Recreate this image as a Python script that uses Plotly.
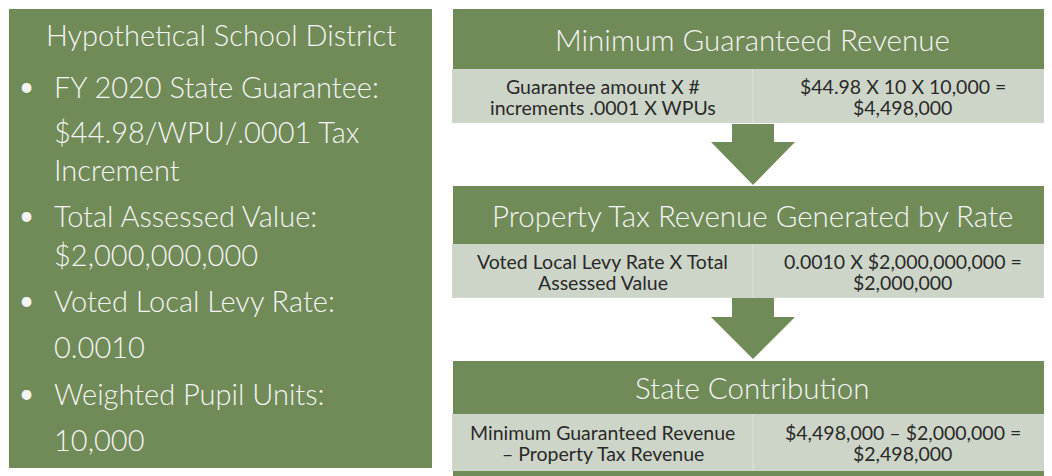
import plotly.graph_objects as go

# ---- content ----
left_title = "Hypothetical School District"
bullet_lines = [
    ["FY 2020 State Guarantee:", "$44.98/WPU/.0001 Tax", "Increment"],
    ["Total Assessed Value:", "$2,000,000,000"],
    ["Voted Local Levy Rate:", "0.0010"],
    ["Weighted Pupil Units:", "10,000"],
]
section_titles = [
    "Minimum Guaranteed Revenue",
    "Property Tax Revenue Generated by Rate",
    "State Contribution",
]
formula_text = [
    ["Guarantee amount X #", "increments .0001 X WPUs"],
    ["Voted Local Levy Rate X Total", "Assessed Value"],
    ["Minimum Guaranteed Revenue", "\u2013 Property Tax Revenue"],
]
value_text = [
    ["$44.98 X 10 X 10,000 =", "$4,498,000"],
    ["0.0010 X $2,000,000,000 =", "$2,000,000"],
    ["$4,498,000 \u2013 $2,000,000 =", "$2,498,000"],
]

# ---- style / layout ----
W, H = 1052, 476
PAGE_MARGIN = 8  # default body margin of the html page
GREEN = "#708B57"
GRAY = "#CDD5C8"
LIGHT = "#F4F4F4"
DARK = "#2A2A2A"
FONT = "Lato"

left_box = (9, 432, 9, 468)
bullet_line_y = [[86, 131, 169], [215, 254], [300, 346], [393, 439]]
rx0, rmid, rx1 = 452, 753, 1052
header_y = [(9, 69), (186, 244), (361, 414)]
row_y = [(69, 123), (244, 298), (414, 471)]
arrows = [(124, 142, 185), (298, 317, 359)]

fig = go.Figure()
shapes = []
ann = []

# left box
shapes.append(dict(type="rect", x0=left_box[0], x1=left_box[1], y0=left_box[2], y1=left_box[3],
                   fillcolor=GREEN, line=dict(width=0), layer="below"))
ann.append(dict(x=221, y=34, text=left_title, xanchor="center", yanchor="middle",
                font=dict(family=FONT, size=29, color=LIGHT, weight=300)))
for lines, ys in zip(bullet_lines, bullet_line_y):
    ann.append(dict(x=17, y=ys[0], text="\u2022", xanchor="left", yanchor="middle",
                    font=dict(family=FONT, size=26, color=LIGHT)))
    for t, y in zip(lines, ys):
        ann.append(dict(x=52, y=y, text=t, xanchor="left", yanchor="middle",
                        font=dict(family=FONT, size=29, color=LIGHT, weight=300)))

# right flow
for i in range(3):
    hy0, hy1 = header_y[i]
    ry0, ry1 = row_y[i]
    shapes.append(dict(type="rect", x0=rx0 + 1, x1=rx1 + 10, y0=hy0, y1=hy1,
                       fillcolor=GREEN, line=dict(width=0)))
    shapes.append(dict(type="rect", x0=rx0, x1=rx1 + 10, y0=ry0, y1=ry1,
                       fillcolor=GRAY, line=dict(width=0)))
    shapes.append(dict(type="line", x0=rmid, x1=rmid, y0=ry0, y1=ry1,
                       line=dict(color="#DCE2D8", width=1)))
    ann.append(dict(x=(rx0 + rx1) / 2, y=(hy0 + hy1) / 2, text=section_titles[i],
                    xanchor="center", yanchor="middle",
                    font=dict(family=FONT, size=29.5, color=LIGHT, weight=300)))
    cy = (ry0 + ry1) / 2
    for j, (lt, rt) in enumerate(zip(formula_text[i], value_text[i])):
        y = cy - 10 + 21 * j
        ann.append(dict(x=(rx0 + rmid) / 2, y=y, text=lt, xanchor="center", yanchor="middle",
                        font=dict(family=FONT, size=19.5, color=DARK, weight=400)))
        ann.append(dict(x=(rmid + rx1) / 2, y=y, text=rt, xanchor="center", yanchor="middle",
                        font=dict(family=FONT, size=19.5, color=DARK, weight=400)))

# bottom strip under last row
shapes.append(dict(type="rect", x0=rx0 + 1, x1=rx1 + 10, y0=471, y1=480,
                   fillcolor=GREEN, line=dict(width=0)))

# arrows
for (a0, a1, a2) in arrows:
    path = (f"M 732 {a0} L 774 {a0} L 774 {a1} L 795 {a1} L 753 {a2} "
            f"L 711 {a1} L 732 {a1} Z")
    shapes.append(dict(type="path", path=path, fillcolor=GREEN, line=dict(width=0)))

fig.update_layout(
    width=W - PAGE_MARGIN, height=H - PAGE_MARGIN,
    margin=dict(l=0, r=0, t=0, b=0),
    paper_bgcolor="white", plot_bgcolor="white",
    xaxis=dict(range=[PAGE_MARGIN, W], visible=False, fixedrange=True),
    yaxis=dict(range=[H, PAGE_MARGIN], visible=False, fixedrange=True),
    shapes=shapes,
    annotations=[dict(a, xref="x", yref="y", showarrow=False) for a in ann],
    showlegend=False,
)

fig.write_html("out.html", config={"displayModeBar": False})
